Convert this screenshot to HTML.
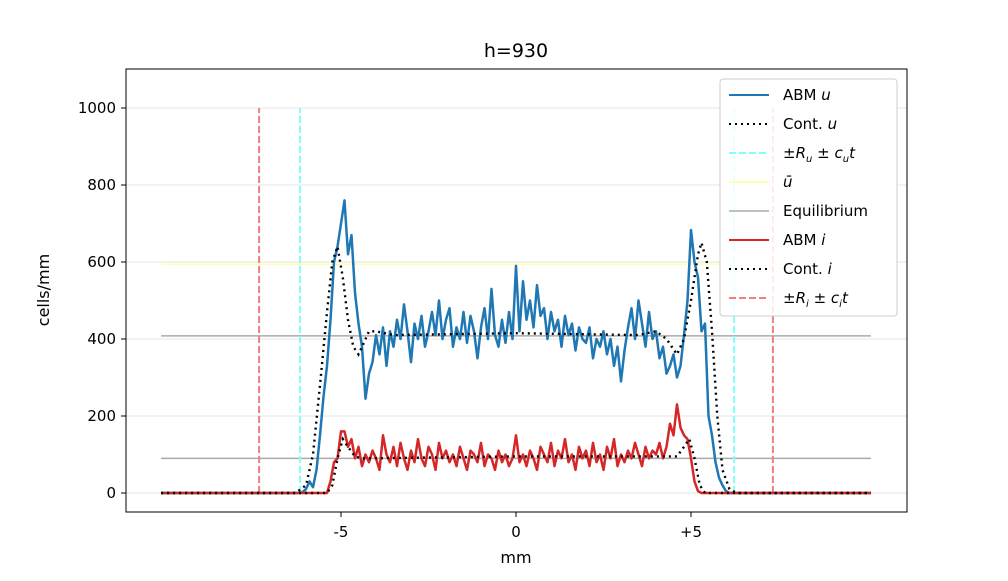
<!DOCTYPE html>
<html><head><meta charset="utf-8"><style>
body{margin:0;background:#fff;font-family:"Liberation Sans","DejaVu Sans",sans-serif;}
svg text{font-family:"DejaVu Sans","Liberation Sans",sans-serif;}
</style></head><body>
<svg id="chart" width="1008" height="576" xmlns="http://www.w3.org/2000/svg">
<rect width="1008" height="576" fill="#fff"/>
<text x="516" y="57" font-size="19" text-anchor="middle">h=930</text>
<g id="grid"></g>
<g id="marks"></g>
<rect x="126" y="69" width="781" height="443" fill="none" stroke="#000" stroke-width="1"/>
<g id="axes"></g>
<text x="516" y="563" font-size="16" text-anchor="middle">mm</text>
<text transform="translate(49,290) rotate(-90)" font-size="16" text-anchor="middle">cells/mm</text>
<g id="legend"></g>
</svg>
<script>
const yTicks=[0,200,400,600,800,1000];
const xTicks=[-5,0,5];
const xTickLabels=["-5","0","+5"];
const uStart=-6.2, iStart=-5.4, step=0.1;
const xMin=-10.14, xMax=10.14;
const abmU=[0,2,10,30,15,60,150,250,330,450,600,640,700,760,620,670,520,440,380,245,310,340,410,
360,430,330,420,380,450,400,490,420,340,440,400,460,380,420,470,410,500,400,450,480,380,430,400,470,390,460,420,350,430,480,400,530,410,380,450,390,470,400,
590,420,550,450,500,430,540,460,480,400,470,420,450,380,460,410,440,370,430,400,390,430,350,400,380,420,360,400,330,380,290,370,430,480,400,500,440,380,470,400,
420,350,380,310,330,360,300,330,410,500,683,600,560,420,440,200,150,80,40,20,5,0,0];
const abmI=[0,30,80,90,160,160,120,140,90,120,70,100,80,110,90,
60,150,100,80,120,70,130,90,60,110,80,140,90,70,120,100,60,130,90,110,80,100,70,120,90,60,110,100,80,130,70,100,90,60,110,80,100,70,90,
150,80,100,70,110,90,60,120,100,80,130,70,110,90,140,80,100,60,120,90,110,70,130,80,100,60,120,90,140,70,100,80,110,90,130,100,70,120,90,110,
100,130,90,120,180,150,230,170,150,140,90,30,5,0,0];
const contUx=[-10.14,-6.3,-6.0,-5.8,-5.6,-5.4,-5.25,-5.1,-4.95,-4.8,-4.65,-4.5,-4.35,-4.2,-4.0,-3.5,0,3.5,4.0,4.3,4.6,4.8,5.0,5.2,5.3,5.45,5.6,5.75,5.9,6.1,6.3,10.14];
const contUy=[0,0,20,100,280,470,600,640,560,450,380,360,390,420,420,410,415,410,420,400,360,400,500,620,650,600,420,200,60,10,0,0];
const contIx=[-10.14,-5.4,-5.25,-5.1,-4.95,-4.8,-4.6,-4.4,0,4.4,4.6,4.8,4.95,5.1,5.25,5.4,10.14];
const contIy=[0,0,20,90,140,120,95,90,95,95,95,120,140,90,20,0,0];
const frontU=[-6.17,6.23], frontI=[-7.34,7.34];
const uBar=594, equilibria=[408,90];

const X=v=>516+35*v, Y=v=>493-0.385*v;
const NS="http://www.w3.org/2000/svg";
function mk(tag,attrs,parent){const e=document.createElementNS(NS,tag);for(const k in attrs)e.setAttribute(k,attrs[k]);document.getElementById(parent).appendChild(e);return e;}
function poly(xs,ys){return xs.map((x,i)=>X(x).toFixed(1)+","+Y(ys[i]).toFixed(1)).join(" ");}

yTicks.forEach(t=>{
  const g=mk("line",{x1:126,x2:907,y1:Y(t),y2:Y(t),stroke:"#e6e6e6","stroke-width":1},"grid");
  
  
  const tk=mk("line",{x1:121,x2:126,y1:Y(t),y2:Y(t),stroke:"#000"},"axes");
  
  
  const tx=mk("text",{x:116,y:Y(t)+5,"font-size":15,"text-anchor":"end"},"axes");
  tx.textContent=t;
  
  
});
xTicks.forEach((t,i)=>{
  const tk=mk("line",{x1:X(t),x2:X(t),y1:512,y2:517,stroke:"#000"},"axes");
  
  
  const tx=mk("text",{x:X(t),y:537,"font-size":15,"text-anchor":"middle"},"axes");
  tx.textContent=xTickLabels[i];
  
  
});

let e=mk("line",{x1:X(xMin),x2:X(xMax),y1:Y(uBar),y2:Y(uBar),stroke:"#ffff99","stroke-width":1.5,opacity:0.8},"marks");


equilibria.forEach(v=>{
  const l=mk("line",{x1:X(xMin),x2:X(xMax),y1:Y(v),y2:Y(v),stroke:"#aaa","stroke-width":1.5},"marks");
  
  
});
frontU.forEach(v=>{
  const l=mk("line",{x1:X(v),x2:X(v),y1:Y(0),y2:Y(1000),stroke:"#80ffff","stroke-width":2,"stroke-dasharray":"7,3"},"marks");
  
  
});
frontI.forEach(v=>{
  const l=mk("line",{x1:X(v),x2:X(v),y1:Y(0),y2:Y(1000),stroke:"#f08080","stroke-width":2,"stroke-dasharray":"7,3"},"marks");
  
  
});
function series(vals,start){const xs=[xMin],ys=[0];vals.forEach((v,i)=>{xs.push(start+i*step);ys.push(v);});xs.push(xMax);ys.push(0);return [xs,ys];}
let [ux,uy]=series(abmU,uStart);
e=mk("polyline",{points:poly(ux,uy),fill:"none",stroke:"#1f77b4","stroke-width":2.5,"stroke-linejoin":"round"},"marks");


let [ix,iy]=series(abmI,iStart);
e=mk("polyline",{points:poly(ix,iy),fill:"none",stroke:"#d62728","stroke-width":2.5,"stroke-linejoin":"round"},"marks");


e=mk("polyline",{points:poly(contUx,contUy),fill:"none",stroke:"#000","stroke-width":2.4,"stroke-dasharray":"2,4"},"marks");


e=mk("polyline",{points:poly(contIx,contIy),fill:"none",stroke:"#000","stroke-width":2.4,"stroke-dasharray":"2,4"},"marks");



const lg=mk("rect",{x:720,y:79,width:177,height:237,rx:3,fill:"#fff","fill-opacity":0.85,stroke:"#ccc"},"legend");


const entries=[["ABM <tspan font-style='italic'>u</tspan>","#1f77b4","",2],
["Cont. <tspan font-style='italic'>u</tspan>","#000","2,4",2],
["±<tspan font-style='italic'>R</tspan><tspan font-size='10' dy='4' font-style='italic'>u</tspan><tspan dy='-4'> ± </tspan><tspan font-style='italic'>c</tspan><tspan font-size='10' dy='4' font-style='italic'>u</tspan><tspan dy='-4' font-style='italic'>t</tspan>","#80ffff","7,3",2],
["<tspan font-style='italic'>ū</tspan>","#ffff99","",1.5],
["Equilibrium","#aaa","",1.5],
["ABM <tspan font-style='italic'>i</tspan>","#d62728","",2],
["Cont. <tspan font-style='italic'>i</tspan>","#000","2,4",2],
["±<tspan font-style='italic'>R</tspan><tspan font-size='10' dy='4' font-style='italic'>i</tspan><tspan dy='-4'> ± </tspan><tspan font-style='italic'>c</tspan><tspan font-size='10' dy='4' font-style='italic'>i</tspan><tspan dy='-4' font-style='italic'>t</tspan>","#f08080","7,3",2]];
entries.forEach((en,k)=>{
  const y=95+29*k;
  const l=mk("line",{x1:729,x2:769,y1:y,y2:y,stroke:en[1],"stroke-width":en[3],"stroke-dasharray":en[2]},"legend");
  
  
  const t=mk("text",{x:783,y:y+5,"font-size":15},"legend");
  t.innerHTML=en[0];
  
  
});
</script>
</body></html>
